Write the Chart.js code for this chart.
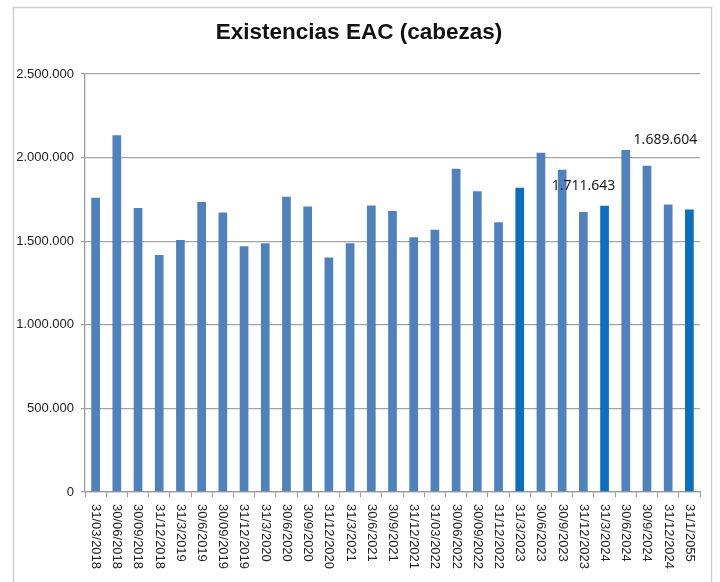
<!DOCTYPE html>
<html lang="es">
<head>
<meta charset="utf-8">
<title>Existencias EAC (cabezas)</title>
<script src="https://cdn.jsdelivr.net/npm/chart.js@4.4.1/dist/chart.umd.min.js"></script>
<style>
    html, body { margin: 0; padding: 0; background: #fff; }
    #wrap { position: relative; width: 720px; height: 582px; }
</style>
</head>
<body>
<div id="wrap"><canvas id="eacChart" width="720" height="582"></canvas></div>
<script>
// fechas de cada trimestre (tal cual aparecen en el eje)
const fechas = [
    '31/03/2018', '30/06/2018', '30/09/2018', '31/12/2018',
    '31/3/2019', '30/6/2019', '30/09/2019', '31/12/2019',
    '31/3/2020', '30/6/2020', '30/9/2020', '31/12/2020',
    '31/3/2021', '30/6/2021', '30/9/2021', '31/12/2021',
    '31/03/2022', '30/06/2022', '30/09/2022', '31/12/2022',
    '31/3/2023', '30/6/2023', '30/9/2023', '31/12/2023',
    '31/3/2024', '30/6/2024', '30/9/2024', '31/12/2024',
    '31/1/2055'
];

// existencias en cabezas
const existencias = [
    1760000, 2133000, 1698000, 1418000,
    1507000, 1734000, 1671000, 1470000,
    1487000, 1766000, 1708000, 1402000,
    1487000, 1713000, 1681000, 1523000,
    1569000, 1934000, 1798000, 1613000,
    1820000, 2029000, 1928000, 1675000,
    1711643, 2045000, 1952000, 1719000,
    1689604
];

// barras resaltadas (marzo)
const resaltadas = [20, 24, 28];

// etiquetas de valor: indice de la barra y desplazamiento en px
const etiquetasIdx = [24, 28];
const etiquetasDx = [-21, -24];
const etiquetasDy = [-20, -69];

const yTicks = [0, 500000, 1000000, 1500000, 2000000, 2500000];

const titulo = 'Existencias EAC (cabezas)';

const fmt = v => String(Math.round(v)).replace(/\B(?=(\d{3})+(?!\d))/g, '.');

document.addEventListener('DOMContentLoaded', () => {
    const ctx = document.getElementById('eacChart').getContext('2d');

    const colores = existencias.map((v, i) => resaltadas.includes(i) ? '#0A6FBE' : '#4F81BD');

    // marco gris y titulo
    const marco = {
        id: 'marco',
        beforeDraw(chart) {
            const c = chart.ctx;
            c.save();
            c.strokeStyle = '#cfcfcf';
            c.lineWidth = 1.5;
            c.strokeRect(13.5, 7.5, 698, 620);
            c.font = 'bold 22.5px "Liberation Sans", Arial, sans-serif';
            c.fillStyle = '#111';
            c.textAlign = 'center';
            c.textBaseline = 'middle';
            c.fillText(titulo, 359, 33);
            c.restore();
        }
    };

    // fechas giradas 90 grados (se leen de arriba abajo)
    const fechasEje = {
        id: 'fechasEje',
        afterDraw(chart) {
            const c = chart.ctx;
            const x = chart.scales.x;
            c.save();
            c.font = '13px "Liberation Sans", Arial, sans-serif';
            c.fillStyle = '#222';
            c.textAlign = 'left';
            c.textBaseline = 'middle';
            fechas.forEach((f, i) => {
                c.save();
                c.translate(x.getPixelForValue(i), x.bottom + 7);
                c.rotate(Math.PI / 2);
                c.fillText(f, 0, 0);
                c.restore();
            });
            c.restore();
        }
    };

    // etiquetas de valor
    const valores = {
        id: 'valores',
        afterDatasetsDraw(chart) {
            const c = chart.ctx;
            const x = chart.scales.x;
            const y = chart.scales.y;
            c.save();
            c.font = '14px "Noto Sans", "Open Sans", sans-serif';
            c.fillStyle = '#1a1a1a';
            c.textAlign = 'center';
            c.textBaseline = 'middle';
            etiquetasIdx.forEach((idx, k) => {
                const px = x.getPixelForValue(idx) + etiquetasDx[k];
                const py = y.getPixelForValue(existencias[idx]) + etiquetasDy[k];
                c.fillText(fmt(existencias[idx]), px, py);
            });
            c.restore();
        }
    };

    new Chart(ctx, {
        type: 'bar',
        data: {
            labels: fechas,
            datasets: [{
                label: 'Existencias EAC',
                data: existencias,
                backgroundColor: colores,
                borderWidth: 0,
                categoryPercentage: 1,
                barPercentage: 0.41
            }]
        },
        options: {
            responsive: false,
            animation: false,
            events: [],
            layout: {
                padding: { left: 0, right: 20, top: 74, bottom: 85 }
            },
            plugins: {
                legend: { display: false },
                tooltip: { enabled: false },
                title: { display: false }
            },
            scales: {
                x: {
                    grid: {
                        display: true,
                        offset: true,
                        drawOnChartArea: false,
                        drawTicks: true,
                        tickLength: 5,
                        color: '#9a9a9a'
                    },
                    border: { color: '#9a9a9a', width: 1.3 },
                    ticks: { display: false }
                },
                y: {
                    min: 0,
                    max: 2500000,
                    afterFit: scale => { scale.width = 85; },
                    afterBuildTicks: scale => { scale.ticks = yTicks.map(v => ({ value: v })); },
                    grid: {
                        color: '#a3a3a3',
                        lineWidth: 1.3,
                        drawTicks: true,
                        tickLength: 4
                    },
                    border: { color: '#9a9a9a', width: 1.3 },
                    ticks: {
                        padding: 7,
                        color: '#222',
                        font: { family: '"Liberation Sans", Arial, sans-serif', size: 13 },
                        callback: v => fmt(v)
                    }
                }
            }
        },
        plugins: [marco, fechasEje, valores]
    });
});
</script>
</body>
</html>
